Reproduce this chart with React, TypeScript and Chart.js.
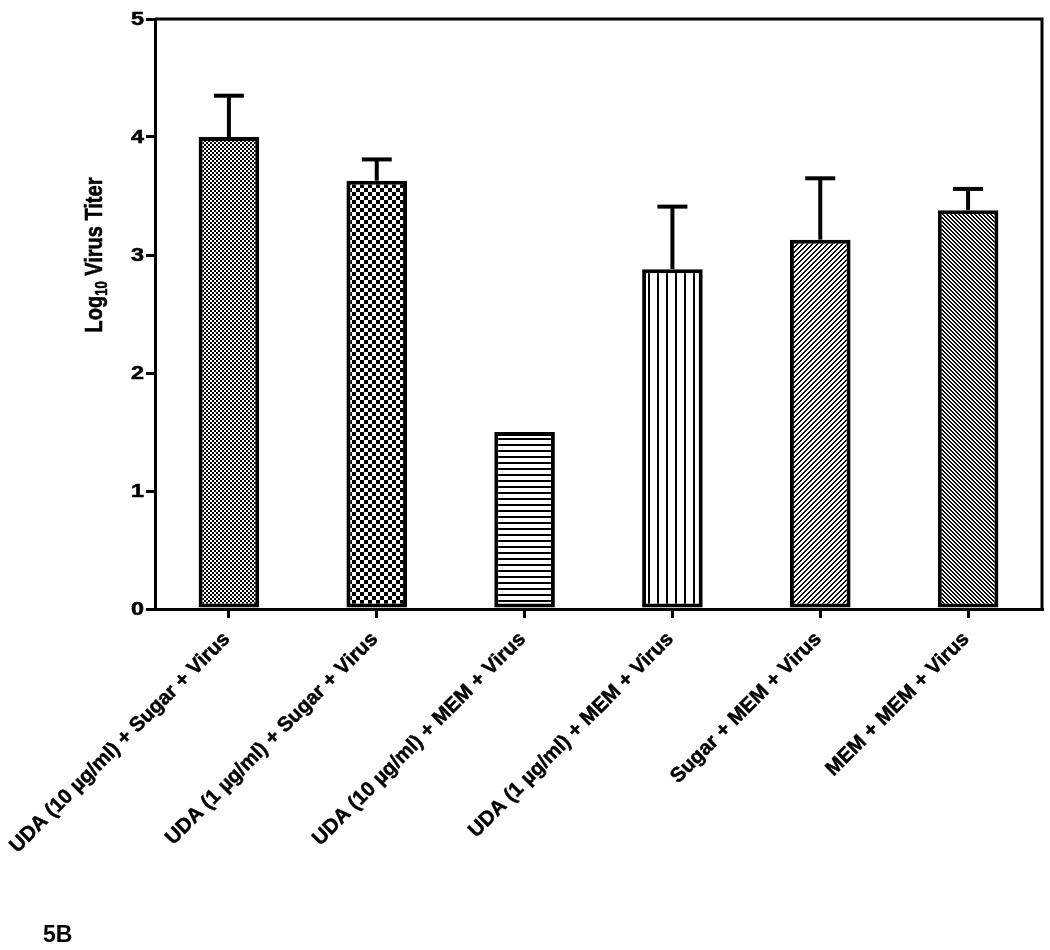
import React, { useEffect, useRef } from "react";
import { Chart, registerables } from "chart.js";

Chart.register(...registerables);

const categories = [
  "UDA (10 µg/ml) + Sugar + Virus",
  "UDA (1 µg/ml) + Sugar + Virus",
  "UDA (10 µg/ml) + MEM + Virus",
  "UDA (1 µg/ml) + MEM + Virus",
  "Sugar + MEM + Virus",
  "MEM + MEM + Virus",
];
const titerMeans = [4.0, 3.63, 1.5, 2.88, 3.13, 3.38];
const titerErrors = [0.35, 0.18, 0, 0.53, 0.52, 0.18];
const yTickValues = [0, 1, 2, 3, 4, 5];
const patternKinds = ["fineChecker", "coarseChecker", "horizontal", "vertical", "forward", "backward"];

const FONT = '"Liberation Sans", Arial, Helvetica, sans-serif';

function tile(w: number, h: number, fn: (x: number, y: number) => boolean): CanvasPattern | string {
  const c = document.createElement("canvas");
  c.width = w;
  c.height = h;
  const ctx = c.getContext("2d");
  if (!ctx) return "#fff";
  ctx.fillStyle = "#fff";
  ctx.fillRect(0, 0, w, h);
  ctx.fillStyle = "#000";
  for (let x = 0; x < w; x++) {
    for (let y = 0; y < h; y++) {
      if (fn(x, y)) ctx.fillRect(x, y, 1, 1);
    }
  }
  return ctx.createPattern(c, "repeat") || "#888";
}

function makePattern(kind: string) {
  switch (kind) {
    case "fineChecker":
      return tile(4, 4, (x, y) => ((x >> 1) + (y >> 1)) % 2 === 0);
    case "coarseChecker":
      return tile(8, 8, (x, y) => ((x >> 2) + (y >> 2)) % 2 === 0);
    case "horizontal":
      return tile(2, 6, (_x, y) => y < 2);
    case "vertical":
      return tile(9, 2, (x) => x < 2);
    case "forward":
      return tile(5, 5, (x, y) => (x + y) % 5 < 2);
    case "backward":
      return tile(4, 4, (x, y) => (((x - y) % 4) + 4) % 4 < 2);
    default:
      return "#fff";
  }
}

function heavyText(ctx: CanvasRenderingContext2D, text: string, x: number, y: number) {
  ctx.fillText(text, x, y);
  ctx.strokeText(text, x, y);
}

const decorPlugin = {
  id: "decor",
  afterDatasetsDraw(chart: any) {
    const { ctx, scales } = chart;
    const xs = scales.x;
    const ys = scales.y;
    ctx.save();
    ctx.strokeStyle = "#000";
    ctx.lineWidth = 4;
    ctx.lineCap = "butt";
    titerMeans.forEach((m, i) => {
      const e = titerErrors[i];
      if (!e) return;
      const px = xs.getPixelForValue(i);
      const top = ys.getPixelForValue(m);
      const hi = ys.getPixelForValue(m + e);
      ctx.beginPath();
      ctx.moveTo(px, top);
      ctx.lineTo(px, hi);
      ctx.stroke();
      ctx.beginPath();
      ctx.moveTo(px - 15, hi);
      ctx.lineTo(px + 15, hi);
      ctx.stroke();
    });
    ctx.restore();
  },
  afterDraw(chart: any) {
    const { ctx, chartArea, scales } = chart;
    const xs = scales.x;
    const ys = scales.y;
    ctx.save();
    // frame top & right
    ctx.strokeStyle = "#000";
    ctx.lineWidth = 3;
    ctx.beginPath();
    ctx.moveTo(chartArea.left, chartArea.top);
    ctx.lineTo(chartArea.right, chartArea.top);
    ctx.lineTo(chartArea.right, chartArea.bottom);
    ctx.stroke();
    ctx.restore();

    // y tick labels (wide bold digits)
    yTickValues.forEach((v) => {
      const py = ys.getPixelForValue(v);
      ctx.save();
      ctx.translate(chartArea.left - 11, py + 1);
      ctx.scale(1.3, 1);
      ctx.fillStyle = "#000";
      ctx.strokeStyle = "#000";
      ctx.lineWidth = 0.5;
      ctx.font = `bold 18px ${FONT}`;
      ctx.textAlign = "right";
      ctx.textBaseline = "middle";
      heavyText(ctx, String(v), 0, 0);
      ctx.restore();
    });

    // x tick labels, rotated 45 degrees
    categories.forEach((label, i) => {
      const px = xs.getPixelForValue(i);
      ctx.save();
      ctx.translate(px - 2, chartArea.bottom + 27);
      ctx.rotate(-Math.PI / 4);
      ctx.fillStyle = "#000";
      ctx.strokeStyle = "#000";
      ctx.lineWidth = 0.5;
      ctx.font = `bold 20.5px ${FONT}`;
      ctx.textAlign = "right";
      ctx.textBaseline = "middle";
      heavyText(ctx, label, 0, 0);
      ctx.restore();
    });

    // y axis title with subscript
    ctx.save();
    const cy = chartArea.top + (chartArea.bottom - chartArea.top) * 0.4;
    ctx.translate(102, cy);
    ctx.scale(1.2, 1);
    ctx.rotate(-Math.PI / 2);
    ctx.fillStyle = "#000";
    ctx.strokeStyle = "#000";
    ctx.lineWidth = 0.5;
    ctx.textBaseline = "alphabetic";
    ctx.textAlign = "left";
    const big = `bold 20px ${FONT}`;
    const small = `bold 13px ${FONT}`;
    ctx.font = big;
    const w1 = ctx.measureText("Log").width;
    const w3 = ctx.measureText(" Virus Titer").width;
    ctx.font = small;
    const w2 = ctx.measureText("10").width;
    const total = w1 + w2 + w3;
    let x0 = -total / 2;
    ctx.font = big;
    heavyText(ctx, "Log", x0, 0);
    x0 += w1;
    ctx.font = small;
    heavyText(ctx, "10", x0, 4);
    x0 += w2;
    ctx.font = big;
    heavyText(ctx, " Virus Titer", x0, 0);
    ctx.restore();

    ctx.save();
    ctx.fillStyle = "#000";
    ctx.font = `bold 23px ${FONT}`;
    ctx.textAlign = "left";
    ctx.textBaseline = "alphabetic";
    ctx.fillText("5B", 43, 942);
    ctx.restore();
  },
};

export default function App() {
  const canvasRef = useRef<HTMLCanvasElement | null>(null);

  useEffect(() => {
    const canvas = canvasRef.current;
    if (!canvas) return;
    const chart = new Chart(canvas, {
      type: "bar",
      data: {
        labels: categories,
        datasets: [
          {
            data: titerMeans,
            backgroundColor: patternKinds.map((k) => makePattern(k)) as any,
            borderColor: "#000",
            borderWidth: 4,
            borderSkipped: false,
            categoryPercentage: 1,
            barPercentage: 0.41,
          },
        ],
      },
      options: {
        animation: false,
        responsive: false,
        devicePixelRatio: 1,
        layout: { padding: { top: 19, right: 8, left: 0, bottom: 0 } },
        plugins: {
          legend: { display: false },
          tooltip: { enabled: false },
        },
        scales: {
          x: {
            grid: {
              offset: false,
              drawOnChartArea: false,
              drawTicks: true,
              tickLength: 9,
              lineWidth: 3,
              color: "#000",
            },
            border: { display: true, color: "#000", width: 3 },
            ticks: {
              display: false,
              autoSkip: false,
            },
            afterFit: (scale: any) => {
              scale.height = 341;
              scale.paddingLeft = 0;
              scale.paddingRight = 0;
            },
          },
          y: {
            min: 0,
            max: 5,
            afterBuildTicks: (scale: any) => {
              scale.ticks = yTickValues.map((v) => ({ value: v }));
            },
            grid: {
              drawOnChartArea: false,
              drawTicks: true,
              tickLength: 9,
              lineWidth: 3,
              color: "#000",
            },
            border: { display: true, color: "#000", width: 3 },
            ticks: {
              display: false,
            },
            afterFit: (scale: any) => {
              scale.width = 155;
            },
          },
        },
      },
      plugins: [decorPlugin],
    });
    return () => chart.destroy();
  }, []);

  return (
    <div style={{ position: "fixed", left: 0, top: 0, width: 1050, height: 950, background: "#fff" }}>
      <canvas ref={canvasRef} width={1050} height={950} style={{ display: "block", width: 1050, height: 950 }} />
    </div>
  );
}
